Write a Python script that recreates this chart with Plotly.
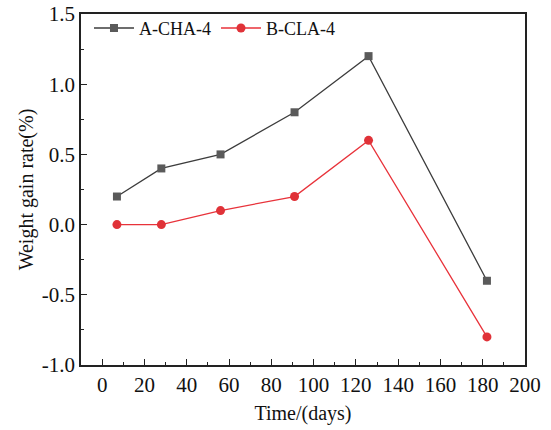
import plotly.graph_objects as go

days = [7, 28, 56, 91, 126, 182]
a_cha = [0.2, 0.4, 0.5, 0.8, 1.2, -0.4]
b_cla = [0.0, 0.0, 0.1, 0.2, 0.6, -0.8]
y_tick_vals = [-1.0, -0.5, 0.0, 0.5, 1.0, 1.5]
y_tick_text = ["-1.0", "-0.5", "0.0", "0.5", "1.0", "1.5"]

FAM = "Liberation Serif"
fig = go.Figure()
fig.add_trace(go.Scatter(x=days, y=a_cha, name="A-CHA-4", mode="lines+markers",
                         line=dict(color="#3c3c3c", width=1.3),
                         marker=dict(symbol="square", size=8, color="#5a5a5a")))
fig.add_trace(go.Scatter(x=days, y=b_cla, name="B-CLA-4", mode="lines+markers",
                         line=dict(color="#e8323a", width=1.3),
                         marker=dict(symbol="circle", size=9, color="#e03238")))

title_font = dict(family=FAM, size=20, color="#111")
axis_common = dict(showline=True, linecolor="#222", linewidth=1.5, mirror=True,
                   ticks="inside", ticklen=6, tickwidth=1.3, tickcolor="#222",
                   showgrid=False, zeroline=False,
                   tickfont=dict(family=FAM, size=21, color="#111"))
fig.update_xaxes(range=[-10, 200], dtick=20, tick0=0,
                 minor=dict(ticks="inside", ticklen=3, dtick=10, tickcolor="#222"),
                 title=dict(text="Time/(days)", font=title_font, standoff=10), **axis_common)
fig.update_yaxes(range=[-1.0, 1.5], tickvals=y_tick_vals, ticktext=y_tick_text,
                 minor=dict(ticks="inside", ticklen=3, tickvals=[-0.75, -0.25, 0.25, 0.75, 1.25], tickcolor="#222"),
                 title=dict(text="Weight gain rate(%)", font=title_font, standoff=3), **axis_common)
fig.update_layout(width=551, height=430, margin=dict(l=81, r=26, t=14, b=65, autoexpand=False),
                  plot_bgcolor="white", paper_bgcolor="white",
                  font=dict(family=FAM, size=18, color="#111"),
                  legend=dict(orientation="h", x=0.018, y=1.012, xanchor="left", yanchor="top",
                              bgcolor="rgba(0,0,0,0)", font=dict(family=FAM, size=18), itemwidth=40,
                              tracegroupgap=0))
fig.write_html("out.html")
